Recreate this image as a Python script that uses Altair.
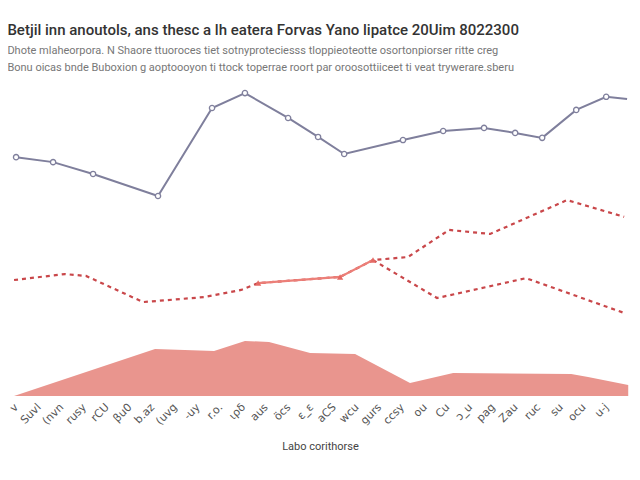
import altair as alt
import pandas as pd

# ---- data ----
x_labels = ["v", "Suvl", "(nvn", "rusy", "rCU", "βu0", "b.az", "(uvg", "-uy",
            "r.o.", "ιρδ", "aus", "öcs", "ε_ε", "aCS", "wcu", "gurs", "ccsy",
            "ou", "Cu", "ɔ_u", "pag", "Zau", "ruc", "su", "ocu", "u-j"]
x_pos = list(range(len(x_labels)))

purple_x = [0.18, 1.81, 3.57, 6.43, 8.81, 10.26, 12.16, 13.48, 14.63, 17.22,
            18.99, 20.79, 22.16, 23.35, 24.85, 26.17, 27.09]
purple_y = [76.8, 75.2, 71.4, 64.3, 92.6, 97.4, 89.4, 83.3, 77.8, 82.3,
            85.2, 86.2, 84.6, 83.0, 92.0, 96.2, 95.5]
purple_marker = [True] * 16 + [False]

upper_x = [0.09, 2.33, 3.26, 5.77, 8.46, 10.09, 10.84, 14.45, 15.90, 17.44,
           19.25, 21.06, 24.45, 26.96]
upper_y = [37.3, 39.2, 38.6, 30.2, 31.8, 34.1, 36.3, 38.3, 43.7, 44.7,
           53.4, 52.1, 63.0, 57.6]

lower_x = [15.90, 18.72, 22.64, 26.96]
lower_y = [43.7, 31.5, 37.9, 26.7]

link_x = [10.84, 14.45, 15.90]
link_y = [36.3, 38.3, 43.7]

area_x = [0.09, 6.30, 8.90, 10.26, 11.32, 13.13, 15.11, 17.53, 19.43, 24.63,
          25.37, 27.14]
area_y = [0.0, 15.1, 14.5, 17.7, 17.4, 13.8, 13.5, 4.2, 7.4, 7.1, 6.1, 3.5]

title_text = "Betjil inn anoutols, ans thesc a lh eatera Forvas Yano lipatce 20Uim  8022300"
subtitle_lines = [
    "Dhote mlaheorpora.  N Shaore ttuoroces tiet sotnyproteciesss tloppieoteotte osortonpiorser ritte creg",
    "Bonu oicas bnde Buboxion g aoptoooyon ti ttock toperrae roort par oroosottiiceet ti veat trywerare.sberu",
]
x_title = "Labo corithorse"

# ---- tables ----
purple = pd.DataFrame({"x": purple_x, "y": purple_y, "m": purple_marker})
dashed = pd.concat([
    pd.DataFrame({"x": upper_x, "y": upper_y, "s": "upper", "o": range(len(upper_x))}),
    pd.DataFrame({"x": lower_x, "y": lower_y, "s": "lower", "o": range(len(lower_x))}),
])
link = pd.DataFrame({"x": link_x, "y": link_y})
area = pd.DataFrame({"x": area_x, "y": area_y})

label_map = {i: l for i, l in zip(x_pos, x_labels)}
label_expr = "{" + ",".join(f'"{k}":"{v}"' for k, v in label_map.items()) + "}[datum.value]"

xscale = alt.Scale(domain=[0, 27.13], nice=False, zero=False)
yscale = alt.Scale(domain=[0, 100], nice=False)
xaxis = alt.Axis(values=x_pos, labelExpr=label_expr, labelAngle=-45, ticks=False,
                 domain=False, grid=False, labelFontSize=11, labelColor="#555555",
                 labelPadding=5, labelOverlap=False, labelBound=False,
                 title=x_title, titleFontSize=11,
                 titleFontWeight="normal", titleColor="#444444", titlePadding=14,
                 labelFont="DejaVu Sans", titleFont="Roboto")
yaxis = None

x_enc = alt.X("x:Q", scale=xscale, axis=xaxis)
y_enc = alt.Y("y:Q", scale=yscale, axis=yaxis)

area_layer = alt.Chart(area).mark_area(color="#e9958e", opacity=1).encode(
    x=x_enc, y=y_enc)

purple_line = alt.Chart(purple).mark_line(color="#7f7f9c", strokeWidth=2).encode(
    x=x_enc, y=y_enc)
purple_pts = alt.Chart(purple).transform_filter("datum.m").mark_point(
    color="#7f7f9c", fill="white", filled=False, size=28, strokeWidth=1.3, opacity=1
).encode(x=x_enc, y=y_enc)

dashed_layer = alt.Chart(dashed).mark_line(
    color="#c9474a", strokeWidth=2.2, strokeDash=[4, 4]
).encode(x=x_enc, y=y_enc, detail="s:N", order="o:Q")

link_layer = alt.Chart(link).mark_line(color="#ec7f78", strokeWidth=2.2).encode(
    x=x_enc, y=y_enc)
link_pts = alt.Chart(link).mark_point(
    color="#e46a64", shape="triangle-up", filled=True, size=40, opacity=1
).encode(x=x_enc, y=y_enc)

chart = alt.layer(area_layer, purple_line, purple_pts, dashed_layer, link_layer,
                  link_pts).properties(
    width=616, height=311,
    background="white",
    title=alt.TitleParams(
        text=title_text, subtitle=subtitle_lines, anchor="start",
        fontSize=15, fontWeight=500, color="#333333", font="Roboto",
        subtitleFontSize=11, subtitleColor="#777777", subtitleFont="Roboto",
        subtitlePadding=7, subtitleLineHeight=17, offset=12,
    ),
    autosize=alt.AutoSizeParams(type="none"),
    padding={"left": 4, "top": 77, "right": 4, "bottom": 70},
).configure_view(strokeWidth=0, stroke=None).configure_axis(labelOverlap=False)

chart.save("out.html", embed_options={"renderer": "svg", "actions": False})
